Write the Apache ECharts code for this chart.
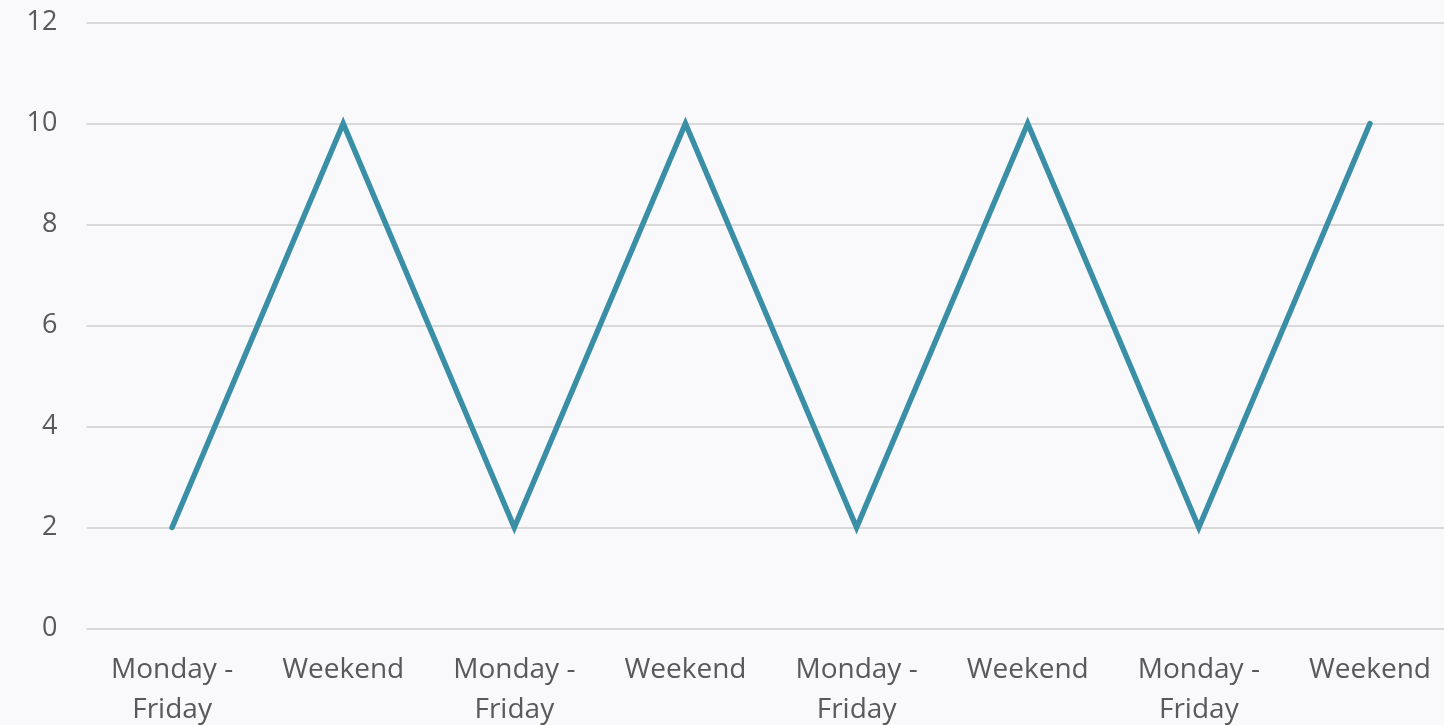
<!DOCTYPE html>
<html>
<head>
<meta charset="utf-8">
<script src="https://cdn.jsdelivr.net/npm/echarts@6/dist/echarts.min.js"></script>
<style>
  html, body { margin: 0; padding: 0; background: #f9f8fa; }
  #chart { width: 1444px; height: 725px; }
</style>
</head>
<body>
<div id="chart"></div>
<script>
const categories = [
  'Monday -\nFriday', 'Weekend',
  'Monday -\nFriday', 'Weekend',
  'Monday -\nFriday', 'Weekend',
  'Monday -\nFriday', 'Weekend'
];
const values = [2, 10, 2, 10, 2, 10, 2, 10];

const chart = echarts.init(document.getElementById('chart'));
chart.setOption({
  backgroundColor: '#f9f8fa',
  animation: false,
  grid: { left: 86.5, top: 22.5, width: 1369, height: 606, outerBoundsMode: 'none', containLabel: false },
  xAxis: {
    type: 'category',
    data: categories,
    boundaryGap: true,
    axisLine: { show: false },
    axisTick: { show: false },
    axisLabel: {
      interval: 0,
      margin: 22,
      color: '#595959',
      fontFamily: 'Open Sans',
      fontSize: 28,
      lineHeight: 40
    }
  },
  yAxis: {
    type: 'value',
    min: 0,
    max: 12,
    interval: 2,
    axisLine: { show: false },
    axisTick: { show: false },
    axisLabel: {
      margin: 29,
      color: '#595959',
      fontFamily: 'Open Sans',
      fontSize: 27
    },
    splitLine: { lineStyle: { color: '#d9d9d9', width: 2 } }
  },
  series: [{
    type: 'line',
    data: values,
    symbol: 'none',
    lineStyle: { color: '#3a8fa6', width: 5.5, cap: 'round', join: 'miter' }
  }]
});
</script>
</body>
</html>
